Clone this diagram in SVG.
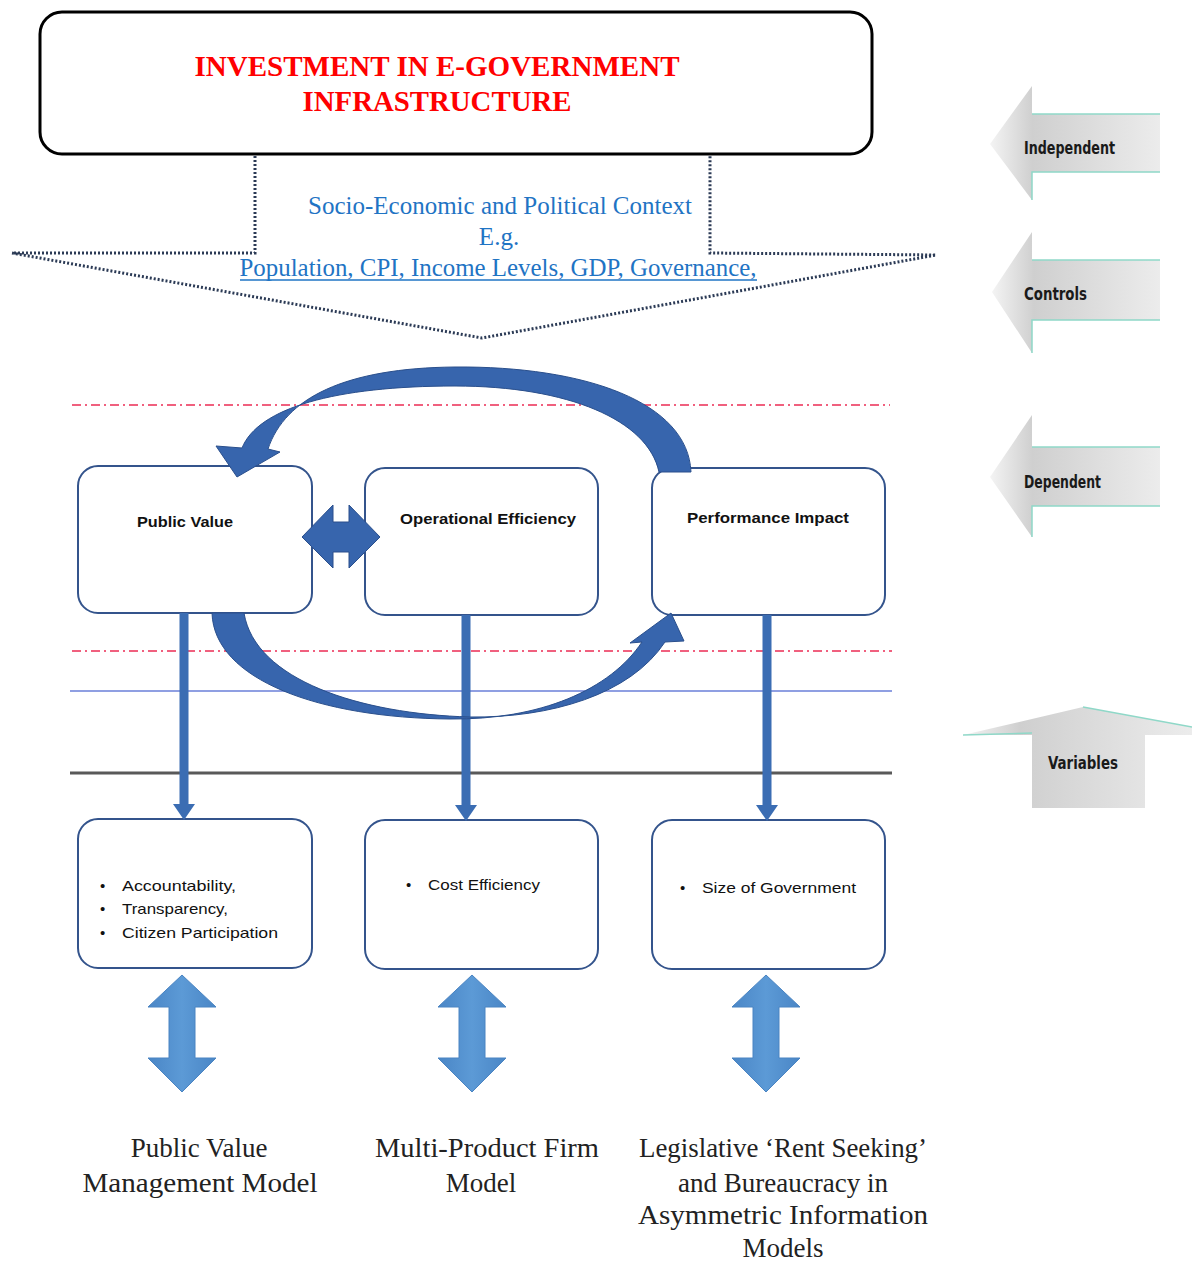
<svg xmlns="http://www.w3.org/2000/svg" width="1192" height="1261" viewBox="0 0 1192 1261">
<defs>
<style>
.title{font-family:"Liberation Serif","Times New Roman",serif;font-weight:bold;font-size:30px;fill:#ff0000;text-anchor:middle}
.ctx{font-family:"Liberation Serif","Times New Roman",serif;font-size:25px;fill:#1f74c4;text-anchor:middle}
.lbl{font-family:"Liberation Sans",Arial,sans-serif;font-weight:bold;font-size:15px;fill:#111}
.bul{font-family:"Liberation Sans",Arial,sans-serif;font-size:15px;fill:#111}
.model{font-family:"Liberation Serif","Times New Roman",serif;font-size:27px;fill:#222;text-anchor:middle}
.side{font-family:"DejaVu Sans Condensed","DejaVu Sans",sans-serif;font-stretch:condensed;font-weight:bold;font-size:17px;fill:#1a1a1a}
.box{fill:#ffffff;stroke:#34548c;stroke-width:2}
.dot{fill:none;stroke:#2b3a55;stroke-width:3;stroke-dasharray:2 2}
.red{fill:none;stroke:#f0607e;stroke-width:2;stroke-dasharray:9 4 2 4}
.vline{stroke:#3b6db3;stroke-width:9;fill:none}
.vhead{fill:#3b6db3}
.curve{fill:#3765ad;stroke:#2a4f8c;stroke-width:1}
.dbl{fill:url(#gBlue);stroke:#4a84c2;stroke-width:1}
.sarrow{fill:url(#gGray)}
.edge{fill:none;stroke:#8fd8c8;stroke-width:1.5}
</style>
<linearGradient id="gGray" x1="0" y1="0" x2="1" y2="0">
<stop offset="0" stop-color="#f4f4f4"/>
<stop offset="0.25" stop-color="#cfcfcf"/>
<stop offset="1" stop-color="#ececec"/>
</linearGradient>
<linearGradient id="gBlue" x1="0" y1="0" x2="1" y2="0">
<stop offset="0" stop-color="#4a86c6"/>
<stop offset="0.5" stop-color="#5c9ad6"/>
<stop offset="1" stop-color="#4a86c6"/>
</linearGradient>
</defs>
<rect width="1192" height="1261" fill="#ffffff"/>

<!-- guide lines -->
<g id="guides">
<line class="red" x1="72" y1="405" x2="890" y2="405"/>
<line class="red" x1="72" y1="651" x2="892" y2="651"/>
<line x1="70" y1="691" x2="892" y2="691" stroke="#6a7fd8" stroke-width="1.5"/>
<line x1="70" y1="773" x2="892" y2="773" stroke="#595959" stroke-width="3"/>
</g>

<!-- context callout -->
<g id="context">
<path class="dot" d="M255,156 L255,253 L12,253 L482,338 L936,255 L710,253 L710,156"/>
<text class="ctx" x="500" y="214" textLength="384" lengthAdjust="spacingAndGlyphs">Socio-Economic and Political Context</text>
<text class="ctx" x="499" y="245">E.g.</text>
<text class="ctx" x="498" y="276" textLength="517" lengthAdjust="spacingAndGlyphs">Population, CPI, Income Levels, GDP, Governance,</text>
<line x1="240" y1="280" x2="757" y2="280" stroke="#1f74c4" stroke-width="1.5"/>
</g>

<!-- title node -->
<g id="investment">
<rect x="40" y="12" width="832" height="142" rx="22" fill="#ffffff" stroke="#000000" stroke-width="3"/>
<text class="title" x="437" y="76" textLength="485" lengthAdjust="spacingAndGlyphs">INVESTMENT IN E-GOVERNMENT</text>
<text class="title" x="437" y="111" textLength="269" lengthAdjust="spacingAndGlyphs">INFRASTRUCTURE</text>
</g>

<!-- right side labels -->
<g id="independent">
<polygon class="sarrow" points="990,144 1032,86 1032,114 1160,114 1160,172 1032,172 1032,200"/>
<polyline class="edge" points="1032,114 1160,114"/>
<polyline class="edge" points="1032,200 1032,172 1160,172"/>
<text class="side" x="1024" y="154" textLength="91" lengthAdjust="spacingAndGlyphs">Independent</text>
</g>
<g id="controls">
<polygon class="sarrow" points="992,292 1032,232 1032,260 1160,260 1160,320 1032,320 1032,353"/>
<polyline class="edge" points="1032,260 1160,260"/>
<polyline class="edge" points="1032,353 1032,320 1160,320"/>
<text class="side" x="1024" y="300" textLength="63" lengthAdjust="spacingAndGlyphs">Controls</text>
</g>
<g id="dependent">
<polygon class="sarrow" points="990,477 1032,415 1032,447 1160,447 1160,506 1032,506 1032,537"/>
<polyline class="edge" points="1032,447 1160,447"/>
<polyline class="edge" points="1032,537 1032,506 1160,506"/>
<text class="side" x="1024" y="488" textLength="77" lengthAdjust="spacingAndGlyphs">Dependent</text>
</g>
<g id="variables">
<polygon class="sarrow" points="963,735 1083,707 1192,727 1192,735 1145,735 1145,808 1032,808 1032,735"/>
<polyline class="edge" points="963,735 1032,733"/>
<polyline class="edge" points="1083,707 1192,727"/>
<text class="side" x="1048" y="769" textLength="70" lengthAdjust="spacingAndGlyphs">Variables</text>
</g>

<!-- top row nodes -->
<g id="public-value">
<rect class="box" x="78" y="466" width="234" height="147" rx="20"/>
<text class="lbl" x="137" y="527" textLength="96" lengthAdjust="spacingAndGlyphs">Public Value</text>
</g>
<g id="operational-efficiency">
<rect class="box" x="365" y="468" width="233" height="147" rx="20"/>
<text class="lbl" x="400" y="524" textLength="176" lengthAdjust="spacingAndGlyphs">Operational Efficiency</text>
</g>
<g id="performance-impact">
<rect class="box" x="652" y="468" width="233" height="147" rx="20"/>
<text class="lbl" x="687" y="523" textLength="162" lengthAdjust="spacingAndGlyphs">Performance Impact</text>
</g>

<!-- bottom row nodes -->
<g id="pv-variables">
<rect class="box" x="78" y="819" width="234" height="149" rx="20"/>
<text class="bul" x="100" y="891">•</text>
<text class="bul" x="122" y="891" textLength="114" lengthAdjust="spacingAndGlyphs">Accountability,</text>
<text class="bul" x="100" y="914">•</text>
<text class="bul" x="122" y="914" textLength="106" lengthAdjust="spacingAndGlyphs">Transparency,</text>
<text class="bul" x="100" y="938">•</text>
<text class="bul" x="122" y="938" textLength="156" lengthAdjust="spacingAndGlyphs">Citizen Participation</text>
</g>
<g id="oe-variables">
<rect class="box" x="365" y="820" width="233" height="149" rx="20"/>
<text class="bul" x="406" y="890">•</text>
<text class="bul" x="428" y="890" textLength="112" lengthAdjust="spacingAndGlyphs">Cost Efficiency</text>
</g>
<g id="pi-variables">
<rect class="box" x="652" y="820" width="233" height="149" rx="20"/>
<text class="bul" x="680" y="893">•</text>
<text class="bul" x="702" y="893" textLength="154" lengthAdjust="spacingAndGlyphs">Size of Government</text>
</g>

<!-- models -->
<g id="pvm-model">
<text class="model" x="199" y="1157">Public Value</text>
<text class="model" x="200" y="1192" textLength="235" lengthAdjust="spacingAndGlyphs">Management Model</text>
</g>
<g id="mpf-model">
<text class="model" x="487" y="1157" textLength="224" lengthAdjust="spacingAndGlyphs">Multi-Product Firm</text>
<text class="model" x="481" y="1192">Model</text>
</g>
<g id="rent-model">
<text class="model" x="783" y="1157" textLength="288" lengthAdjust="spacingAndGlyphs">Legislative ‘Rent Seeking’</text>
<text class="model" x="783" y="1192">and Bureaucracy in</text>
<text class="model" x="783" y="1224" textLength="290" lengthAdjust="spacingAndGlyphs">Asymmetric Information</text>
<text class="model" x="783" y="1257">Models</text>
</g>

<!-- connectors -->
<g id="connectors">
<line class="vline" x1="184" y1="613" x2="184" y2="806"/>
<polygon class="vhead" points="173,804 195,804 184,820"/>
<line class="vline" x1="466" y1="615" x2="466" y2="807"/>
<polygon class="vhead" points="455,805 477,805 466,821"/>
<line class="vline" x1="767" y1="615" x2="767" y2="807"/>
<polygon class="vhead" points="756,805 778,805 767,821"/>

<polygon class="curve" points="302,537 333,505 333,522 349,522 349,505 380,537 349,568 349,552 333,552 333,568"/>

<path class="curve" d="M691,472 C688,402 585,366 455,367 C345,368 285,398 268,449 L280,452 L237,477 L216,446 L242,448 C258,408 335,386 455,386 C568,386 648,420 659,472 Z"/>
<path class="curve" d="M212,613 C214,680 320,718 450,719 C540,720 610,690 642,642 L630,643 L671,613 L684,641 L665,642 C630,695 550,718 470,717 C360,714 255,680 244,613 Z"/>

<polygon class="dbl" points="182,975 216,1007 195,1007 195,1058 216,1058 182,1092 148,1058 169,1058 169,1007 148,1007"/>
<polygon class="dbl" points="472,975 506,1007 485,1007 485,1058 506,1058 472,1092 438,1058 459,1058 459,1007 438,1007"/>
<polygon class="dbl" points="766,975 800,1007 779,1007 779,1058 800,1058 766,1092 732,1058 753,1058 753,1007 732,1007"/>
</g>
</svg>
